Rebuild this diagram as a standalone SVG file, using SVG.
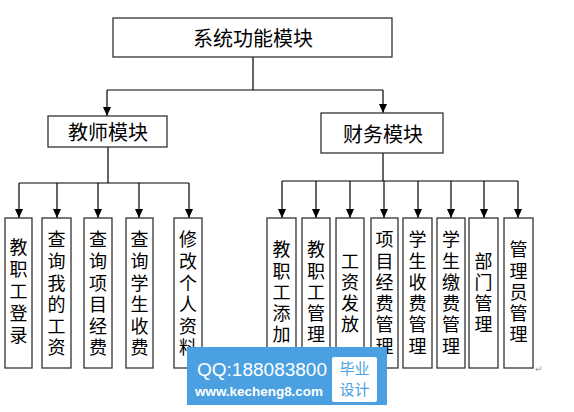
<svg xmlns="http://www.w3.org/2000/svg" width="574" height="412" viewBox="0 0 574 412">
<defs>
<marker id="arr" markerWidth="9" markerHeight="8" refX="9" refY="4" orient="auto" markerUnits="userSpaceOnUse" viewBox="0 0 9 8">
<path d="M0,0 L9,4 L0,8 Z" fill="#000"/>
</marker>
<style>
.box{fill:#fff;stroke:#333;stroke-width:1.3}
.ln{fill:none;stroke:#000;stroke-width:1.2}
.ar{fill:none;stroke:#000;stroke-width:1.2;marker-end:url(#arr)}
.t{font-family:"Noto Sans CJK SC",sans-serif;font-size:20px;fill:#000;text-anchor:middle;dominant-baseline:central}
.v{font-family:"Noto Sans CJK SC",sans-serif;font-size:18px;fill:#000;text-anchor:middle;dominant-baseline:central}
</style>
</defs>
<rect width="574" height="412" fill="#fff"/>
<g id="connectors">
<path class="ln" d="M253,57 V90 M107,90 H383"/>
<path class="ar" d="M107,90 V116"/>
<path class="ar" d="M383,90 V113"/>
<path class="ln" d="M108,147 V183 M19,183 H189"/>
<path class="ar" d="M19,183 V218"/>
<path class="ar" d="M57,183 V218"/>
<path class="ar" d="M98,183 V218"/>
<path class="ar" d="M139,183 V218"/>
<path class="ar" d="M189,183 V218"/>
<path class="ln" d="M383,153 V181 M282,181 H518"/>
<path class="ar" d="M282,181 V218"/>
<path class="ar" d="M316,181 V218"/>
<path class="ar" d="M350,181 V218"/>
<path class="ar" d="M384,181 V218"/>
<path class="ar" d="M418,181 V218"/>
<path class="ar" d="M451,181 V218"/>
<path class="ar" d="M484,181 V218"/>
<path class="ar" d="M518,181 V218"/>
</g>
<g id="root"><rect class="box" x="113" y="18" width="279" height="39"/><text class="t" x="253" y="37.5">系统功能模块</text></g>
<g id="teacher"><rect class="box" x="48" y="116" width="119" height="31"/><text class="t" x="108" y="131.5">教师模块</text></g>
<g id="finance"><rect class="box" x="321" y="113" width="122" height="40"/><text class="t" x="383" y="133">财务模块</text></g>

<g id="t1"><rect class="box" x="5" y="218" width="27" height="150"/><text class="v" x="18.5 18.5 18.5 18.5 18.5" y="246 268 290 312 334">教职工登录</text></g>
<g id="t2"><rect class="box" x="42" y="218" width="29" height="150"/><text class="v" x="56.5 56.5 56.5 56.5 56.5 56.5" y="238 260 282 303 325 346">查询我的工资</text></g>
<g id="t3"><rect class="box" x="84" y="218" width="28" height="150"/><text class="v" x="98 98 98 98 98 98" y="238 260 282 303 325 346">查询项目经费</text></g>
<g id="t4"><rect class="box" x="126" y="218" width="27" height="150"/><text class="v" x="139.5 139.5 139.5 139.5 139.5 139.5" y="238 260 282 303 325 346">查询学生收费</text></g>
<g id="t5"><rect class="box" x="174" y="218" width="28" height="150"/><text class="v" x="188 188 188 188 188 188" y="238 260 282 303 325 346">修改个人资料</text></g>

<g id="f1"><rect class="box" x="267" y="218" width="29" height="150"/><text class="v" x="281.5 281.5 281.5 281.5 281.5" y="248 270 291 312 333">教职工添加</text></g>
<g id="f2"><rect class="box" x="302" y="218" width="28" height="150"/><text class="v" x="316 316 316 316 316" y="248 270 291 312 333">教职工管理</text></g>
<g id="f3"><rect class="box" x="336" y="218" width="28" height="150"/><text class="v" x="350 350 350 350" y="260 281 302 323">工资发放</text></g>
<g id="f4"><rect class="box" x="371" y="218" width="27" height="150"/><text class="v" x="384.5 384.5 384.5 384.5 384.5 384.5" y="238 260 281 302 323 345">项目经费管理</text></g>
<g id="f5"><rect class="box" x="403" y="218" width="29" height="150"/><text class="v" x="417.5 417.5 417.5 417.5 417.5 417.5" y="238 260 281 302 323 345">学生收费管理</text></g>
<g id="f6"><rect class="box" x="437" y="218" width="28" height="150"/><text class="v" x="451 451 451 451 451 451" y="238 260 281 302 323 345">学生缴费管理</text></g>
<g id="f7"><rect class="box" x="469" y="218" width="29" height="150"/><text class="v" x="483.5 483.5 483.5 483.5" y="260 281 302 323">部门管理</text></g>
<g id="f8"><rect class="box" x="504" y="218" width="29" height="150"/><text class="v" x="518.5 518.5 518.5 518.5 518.5" y="248 270 291 312 333">管理员管理</text></g>

<text x="535" y="372" font-family="DejaVu Sans, sans-serif" font-size="9" fill="#999">↵</text>

<g id="watermark">
<rect x="187" y="347" width="200" height="58" fill="#4aa0e0"/>
<text x="197" y="376" font-family="Liberation Sans, sans-serif" font-size="18" fill="#fff" textLength="130" lengthAdjust="spacingAndGlyphs">QQ:188083800</text>
<text x="195" y="396" font-family="Liberation Sans, sans-serif" font-size="13" font-weight="bold" fill="#fff" textLength="128" lengthAdjust="spacingAndGlyphs">www.kecheng8.com</text>
<rect x="332" y="357" width="45" height="45" rx="2" fill="#fff"/>
<text x="354.5" y="374" font-family="Noto Sans CJK SC, sans-serif" font-size="15" fill="#4aa0e0" text-anchor="middle">毕业</text>
<text x="354.5" y="395" font-family="Noto Sans CJK SC, sans-serif" font-size="15" fill="#4aa0e0" text-anchor="middle">设计</text>
</g>
</svg>
